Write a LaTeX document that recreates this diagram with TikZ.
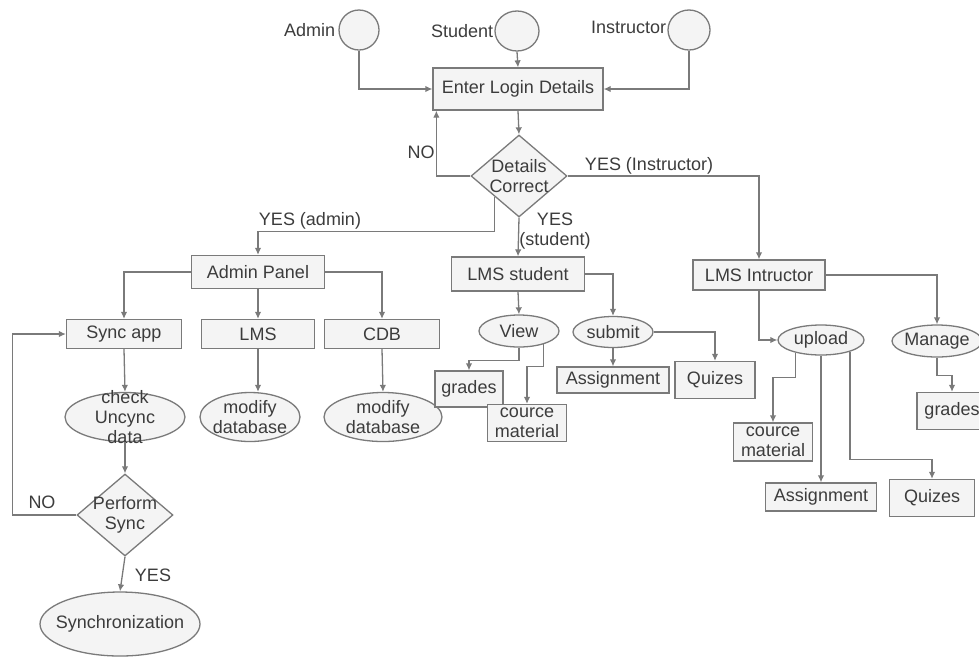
\documentclass[tikz,border=0pt]{standalone}
\usepackage{fontspec}
\setmainfont{Liberation Sans}
\usetikzlibrary{shapes.geometric,arrows.meta,calc}
\definecolor{ink}{HTML}{3C3C3C}
\definecolor{edgegray}{HTML}{7A7A7A}
\definecolor{shapefill}{HTML}{F4F4F4}

\begin{document}
\begin{tikzpicture}[x=1pt,y=-1pt,
  font=\fontsize{18}{20}\selectfont, text=ink,
  base/.style={draw=edgegray, fill=shapefill, line width=1.3pt, inner sep=0pt, align=center},
  boxn/.style={base, rectangle, minimum width=#1},
  ovaln/.style={base, ellipse},
  dia/.style={base, diamond},
  inside/.style={label={[text=ink, align=center, inner sep=0pt]center:{#1}}},
  flow/.style={draw=edgegray, line width=1.3pt, -{Latex[length=7pt,width=6.5pt]}},
  lbl/.style={inner sep=0pt, text=ink, align=center}]
\useasboundingbox (0,0) rectangle (979,657);

% actors
\node[ovaln, minimum width=40, minimum height=40] (admin) at (359,30) {};
\node[ovaln, minimum width=44, minimum height=40] (student) at (517,31) {};
\node[ovaln, minimum width=42, minimum height=40] (instr) at (689,30) {};
\node[lbl, anchor=east] (adminT) at ([xshift=-3pt]admin.west) {Admin};
\node[lbl, anchor=east] (studentT) at ([xshift=-1pt]student.west) {Student};
\node[lbl, anchor=east] (instrT) at ([xshift=-1pt,yshift=3pt]instr.west) {Instructor};

% login and check
\node[boxn=170, minimum height=42] (login) at (518,89) {Enter Login Details};
\node[dia, minimum width=96, minimum height=82, inside={Details\\Correct}] (details) at (519,176) {};

\draw[flow] (admin.south) |- (login.west);
\draw[flow] (instr.south) |- (login.east);
\draw[flow] (student.south) -- (login.north);
\draw[flow] (login.south) -- (details.north);
\draw[flow] (details.west) -| ($(login.south west)+(4,0)$);
\node[lbl] (noT) at (421,152) {NO};

% admin branch
\node[boxn=133, minimum height=33] (apanel) at (258,272) {Admin Panel};
\draw[flow] (details.south west) -- ++(0,34.5) -| (apanel.north);
\node[lbl] (yesadmin) at (310,221) {YES (admin)};

\node[boxn=115, minimum height=29] (sync) at (124,334) {Sync app};
\node[boxn=113, minimum height=29] (lms) at (258,334) {LMS};
\node[boxn=115, minimum height=29] (cdb) at (382,334) {CDB};
\draw[flow] (apanel.west) -| (sync.north);
\draw[flow] (apanel.south) -- (lms.north);
\draw[flow] (apanel.east) -| (cdb.north);

\node[ovaln, minimum width=120, minimum height=49, inside={check\\Uncync\\data}] (check) at (125,417) {};
\node[ovaln, minimum width=100, minimum height=49, inside={modify\\database}] (mod1) at (250,417) {};
\node[ovaln, minimum width=118, minimum height=49, inside={modify\\database}] (mod2) at (383,417) {};
\draw[flow] (sync.south) -- (check.north);
\draw[flow] (lms.south) -- (lms.south |- mod1.north);
\draw[flow] (cdb.south) -- (mod2.north);

\node[dia, minimum width=96, minimum height=82, inside={Perform\\Sync}] (perform) at (125,515) {};
\node[ovaln, minimum width=160, minimum height=64, inside={Synchronization}] (synch) at (120,624) {};
\draw[flow] (check.south) -- (perform.north);
\draw[flow] (perform.west) -- ++(-64,0) |- (sync.west);
\node[lbl] (noT2) at (42,502) {NO};
\draw[flow] (perform.south) -- (synch.north);
\node[lbl] (yesT2) at (153,575) {YES};

% student branch
\node[boxn=133, minimum height=34] (lmss) at (518,274) {LMS student};
\draw[flow] (details.south) -- (lmss.north);
\node[lbl] (yesstudent) at (555,231) {YES\\(student)};

\node[ovaln, minimum width=80, minimum height=32, inside={View}] (view) at (519,331) {};
\node[ovaln, minimum width=80, minimum height=31, inside={submit}] (submit) at (613,332) {};
\draw[flow] (lmss.south) -- (view.north);
\draw[flow] (lmss.east) -| (submit.north);

\node[boxn=68, minimum height=36] (grades1) at (469,389) {grades};
\node[boxn=79, minimum height=37] (cource1) at (527,423) {cource\\material};
\draw[flow] (view.south) -- ++(0,13) -| (grades1.north);
\draw[flow] (view.-28) -- ++(0,22) -| (cource1.north);

\node[boxn=112, minimum height=26] (assign1) at (613,380) {Assignment};
\node[boxn=80, minimum height=37] (quiz1) at (715,380) {Quizes};
\draw[flow] (submit.south) -- (assign1.north);
\draw[flow] (submit.east) -| (quiz1.north);

% instructor branch
\node[boxn=132, minimum height=30] (lmsi) at (759,275) {LMS Intructor};
\draw[flow] (details.east) -| (lmsi.north);
\node[lbl] (yesinstr) at (649,166) {YES (Instructor)};

\node[ovaln, minimum width=86, minimum height=30, inside={upload}] (upload) at (821,340) {};
\node[ovaln, minimum width=90, minimum height=32, inside={Manage}] (manage) at (937,341) {};
\draw[flow] (lmsi.south) |- (upload.west);
\draw[flow] (lmsi.east) -| (manage.north);

\node[boxn=70, minimum height=37] (grades2) at (952,411) {grades};
\draw[flow] (manage.south) -- ++(0,18) -| (grades2.north);

\node[boxn=79, minimum height=38] (cource2) at (773,442) {cource\\material};
\node[boxn=111, minimum height=28] (assign2) at (821,497) {Assignment};
\node[boxn=85, minimum height=37] (quiz2) at (932,498) {Quizes};
\draw[flow] (upload.206) -- ++(0,25) -| (cource2.north);
\draw[flow] (upload.south) -- (assign2.north);
\draw[flow] (upload.-22) -- ++(0,108) -| (quiz2.north);
\end{tikzpicture}
\end{document}
